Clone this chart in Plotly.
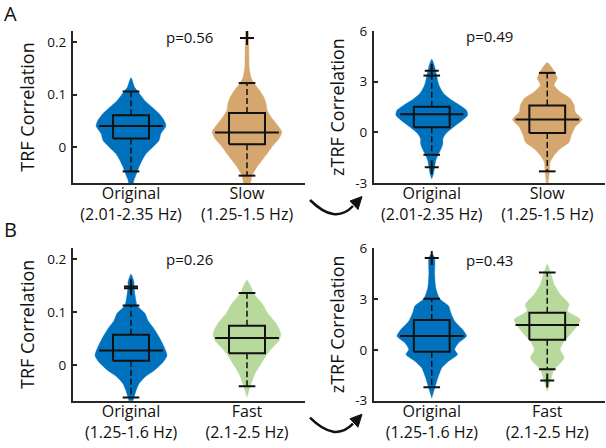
import plotly.graph_objects as go

# ---------------- data ----------------
cat_A = ["Original<br>(2.01-2.35 Hz)", "Slow<br>(1.25-1.5 Hz)"]
cat_B = ["Original<br>(1.25-1.6 Hz)", "Fast<br>(2.1-2.5 Hz)"]
p_values = ["p=0.56", "p=0.49", "p=0.26", "p=0.43"]

# violin outlines: y levels and relative density (half-width relative to max)
A_trf_orig_y = [0.132, 0.114, 0.106, 0.089, 0.0765, 0.064, 0.051, 0.0405, 0.026, 0.0133, 0.0006, -0.012, -0.0247, -0.0375, -0.047, -0.0626, -0.07]
A_trf_orig_d = [0, 0.10, 0.19, 0.38, 0.58, 0.78, 0.92, 0.97, 0.83, 0.78, 0.61, 0.42, 0.31, 0.22, 0.17, 0.08, 0.05]
A_trf_slow_y = [0.23, 0.20, 0.152, 0.133, 0.122, 0.108, 0.095, 0.083, 0.070, 0.0575, 0.045, 0.029, 0.0165, 0.0006, -0.012, -0.0247, -0.037, -0.054, -0.07]
A_trf_slow_d = [0.04, 0.05, 0.06, 0.11, 0.19, 0.35, 0.47, 0.53, 0.56, 0.67, 0.81, 0.97, 0.89, 0.69, 0.56, 0.42, 0.28, 0.14, 0.08]
A_z_orig_y = [4.33, 3.89, 3.6, 3.34, 3.0, 2.7, 2.3, 1.9, 1.61, 1.31, 1.01, 0.72, 0.32, -0.08, -0.38, -0.67, -0.97, -1.27, -1.67, -2.07, -2.5, -2.75]
A_z_orig_d = [0, 0.08, 0.11, 0.14, 0.17, 0.22, 0.33, 0.56, 0.78, 0.97, 1.0, 0.86, 0.61, 0.39, 0.31, 0.31, 0.26, 0.19, 0.11, 0.08, 0.04, 0]
A_z_slow_y = [4.13, 3.79, 3.5, 3.2, 2.8, 2.4, 2.0, 1.61, 1.21, 0.76, 0.32, -0.18, -0.58, -0.97, -1.37, -1.77, -2.3, -2.86, -3.05]
A_z_slow_d = [0, 0.14, 0.22, 0.28, 0.19, 0.36, 0.64, 0.75, 0.78, 0.97, 0.78, 0.67, 0.61, 0.36, 0.19, 0.08, 0.06, 0.03, 0.02]
B_trf_orig_y = [0.1715, 0.157, 0.1475, 0.132, 0.112, 0.097, 0.084, 0.071, 0.0525, 0.0335, 0.0177, 0.005, -0.011, -0.023, -0.036, -0.049, -0.062, -0.07]
B_trf_orig_d = [0, 0.08, 0.08, 0.11, 0.17, 0.39, 0.47, 0.61, 0.78, 0.92, 1.0, 0.89, 0.64, 0.39, 0.22, 0.14, 0.08, 0.04]
B_trf_fast_y = [0.16, 0.1475, 0.136, 0.116, 0.097, 0.078, 0.059, 0.046, 0.0335, 0.0177, 0.002, -0.017, -0.0405, -0.061]
B_trf_fast_d = [0, 0.11, 0.17, 0.42, 0.58, 0.81, 0.94, 0.89, 0.72, 0.53, 0.39, 0.22, 0.09, 0]
B_z_orig_y = [5.67, 5.41, 4.45, 3.66, 3.01, 2.58, 2.19, 1.69, 1.2, 0.81, 0.41, 0.02, -0.28, -0.67, -1.06, -1.65, -2.2, -2.83]
B_z_orig_d = [0, 0.08, 0.08, 0.11, 0.22, 0.47, 0.53, 0.64, 0.86, 0.97, 0.75, 0.64, 0.72, 0.47, 0.28, 0.17, 0.09, 0]
B_z_fast_y = [5.04, 4.55, 3.86, 3.27, 2.68, 2.28, 1.79, 1.4, 0.9, 0.51, 0.02, -0.47, -0.87, -1.14, -1.81, -2.44]
B_z_fast_d = [0, 0.09, 0.19, 0.36, 0.61, 0.56, 0.92, 0.83, 0.64, 0.47, 0.36, 0.47, 0.33, 0.19, 0.09, 0]

# box statistics: [lower whisker, Q1, median, Q3, upper whisker]
A_trf_orig_stats = [-0.046, 0.0165, 0.0405, 0.061, 0.106]
A_trf_slow_stats = [-0.054, 0.0057, 0.028, 0.065, 0.122]
A_z_orig_stats = [-1.33, 0.30, 1.07, 1.51, 3.36]
A_z_slow_stats = [-2.31, -0.04, 0.755, 1.59, 3.52]
B_trf_orig_stats = [-0.062, 0.0076, 0.027, 0.057, 0.112]
B_trf_fast_stats = [-0.0405, 0.022, 0.0506, 0.074, 0.136]
B_z_orig_stats = [-2.2, -0.12, 0.81, 1.75, 3.01]
B_z_fast_stats = [-1.14, 0.59, 1.46, 2.19, 4.55]

# outliers
A_trf_orig_out = []
A_trf_slow_out = [0.2076]
A_z_orig_out = [3.64, -2.07]
A_z_slow_out = []
B_trf_orig_out = [0.145, 0.148]
B_trf_fast_out = []
B_z_orig_out = [5.41]
B_z_fast_out = [-1.81]

# ---------------- style ----------------
BLUE = "#0072BD"
TAN = "#D6A66F"
GREEN = "#B7D99C"
INK = "#111111"
AXC = "#262626"
FONT = "Open Sans"
VW, BW, MW, CW = 0.31, 0.155, 0.275, 0.072

fig = go.Figure()


def add_group(xa, ya, c, ys, ds, stats, outs, color):
    xs = [c + d * VW for d in ds] + [c - d * VW for d in reversed(ds)]
    yy = list(ys) + list(reversed(ys))
    fig.add_trace(go.Scatter(x=xs, y=yy, fill="toself", fillcolor=color, mode="lines",
                             line=dict(width=0.5, color=color, shape="spline", smoothing=0.6),
                             xaxis=xa, yaxis=ya, hoverinfo="skip", showlegend=False))
    lo, q1, med, q3, hi = stats
    ln = dict(color=INK, width=2)
    for a, b in [(q3, hi), (q1, lo)]:
        fig.add_trace(go.Scatter(x=[c, c], y=[a, b], mode="lines",
                                 line=dict(color=INK, width=1.5, dash="6px,3px"),
                                 xaxis=xa, yaxis=ya, hoverinfo="skip", showlegend=False))
    for v in [hi, lo]:
        fig.add_trace(go.Scatter(x=[c - CW, c + CW], y=[v, v], mode="lines", line=ln,
                                 xaxis=xa, yaxis=ya, hoverinfo="skip", showlegend=False))
    fig.add_trace(go.Scatter(x=[c - BW, c + BW, c + BW, c - BW, c - BW], y=[q1, q1, q3, q3, q1],
                             mode="lines", line=ln, xaxis=xa, yaxis=ya, hoverinfo="skip", showlegend=False))
    fig.add_trace(go.Scatter(x=[c - MW, c + MW], y=[med, med], mode="lines", line=ln,
                             xaxis=xa, yaxis=ya, hoverinfo="skip", showlegend=False))
    if outs:
        fig.add_trace(go.Scatter(x=[c] * len(outs), y=outs, mode="markers",
                                 marker=dict(symbol="cross-thin", size=10, line=dict(color=INK, width=2)),
                                 xaxis=xa, yaxis=ya, hoverinfo="skip", showlegend=False, cliponaxis=False))


add_group("x", "y", 1, A_trf_orig_y, A_trf_orig_d, A_trf_orig_stats, A_trf_orig_out, BLUE)
add_group("x", "y", 2, A_trf_slow_y, A_trf_slow_d, A_trf_slow_stats, A_trf_slow_out, TAN)
add_group("x2", "y2", 1, A_z_orig_y, A_z_orig_d, A_z_orig_stats, A_z_orig_out, BLUE)
add_group("x2", "y2", 2, A_z_slow_y, A_z_slow_d, A_z_slow_stats, A_z_slow_out, TAN)
add_group("x3", "y3", 1, B_trf_orig_y, B_trf_orig_d, B_trf_orig_stats, B_trf_orig_out, BLUE)
add_group("x3", "y3", 2, B_trf_fast_y, B_trf_fast_d, B_trf_fast_stats, B_trf_fast_out, GREEN)
add_group("x4", "y4", 1, B_z_orig_y, B_z_orig_d, B_z_orig_stats, B_z_orig_out, BLUE)
add_group("x4", "y4", 2, B_z_fast_y, B_z_fast_d, B_z_fast_stats, B_z_fast_out, GREEN)

W, H = 606, 448
def px(x):
    return x / W
def py(y):
    return 1 - y / H

XL = [px(73), px(305)]
XR = [px(374), px(605)]
YA = [py(183), py(31)]
YB = [py(400.7), py(248)]

def xax(dom, anchor, cats):
    return dict(domain=dom, anchor=anchor, range=[0.5, 2.5], tickvals=[1, 2], ticktext=cats,
                showline=True, linecolor=AXC, linewidth=2, ticks="", showgrid=False, zeroline=False,
                automargin=False, ticklabelstandoff=-5,
                tickfont=dict(family=FONT, size=16, color=INK), fixedrange=True)

def yax(dom, anchor, rng, vals, texts, title, standoff):
    return dict(domain=dom, anchor=anchor, range=rng, tickvals=vals, ticktext=texts,
                showline=True, linecolor=AXC, linewidth=2, ticks="inside", ticklen=4, tickwidth=1.5,
                tickcolor=AXC, showgrid=False, zeroline=False, automargin=False,
                tickfont=dict(family=FONT, size=13.5, color=INK), ticklabelstandoff=2,
                title=dict(text=title, font=dict(family=FONT, size=18, color=INK), standoff=standoff),
                fixedrange=True)

trf_rng = [-0.068, 0.221]
z_rng = [-3, 6]
fig.update_layout(
    template="none",
    width=W, height=H, margin=dict(l=0, r=0, t=0, b=0, pad=0), autosize=False,
    paper_bgcolor="white", plot_bgcolor="white", showlegend=False,
    font=dict(family=FONT, color=INK),
    xaxis=xax(XL, "y", cat_A),
    yaxis=yax(YA, "x", trf_rng, [0, 0.1, 0.2], ["0", "0.1", "0.2"], "TRF Correlation", 8),
    xaxis2=xax(XR, "y2", cat_A),
    yaxis2=yax(YA, "x2", z_rng, [-3, 0, 3, 6], ["-3", "0", "3", "6"], "zTRF Correlation", 6),
    xaxis3=xax(XL, "y3", cat_B),
    yaxis3=yax(YB, "x3", trf_rng, [0, 0.1, 0.2], ["0", "0.1", "0.2"], "TRF Correlation", 8),
    xaxis4=xax(XR, "y4", cat_B),
    yaxis4=yax(YB, "x4", z_rng, [-3, 0, 3, 6], ["-3", "0", "3", "6"], "zTRF Correlation", 6),
)

for (xr, yr, yv, txt) in [("x", "y", 0.209, p_values[0]), ("x2", "y2", 5.72, p_values[1]),
                          ("x3", "y3", 0.201, p_values[2]), ("x4", "y4", 5.3, p_values[3])]:
    fig.add_annotation(x=1.5, y=yv, xref=xr, yref=yr, text=txt, showarrow=False,
                       font=dict(family=FONT, size=15, color=INK), xanchor="center", yanchor="middle")

fig.add_annotation(x=px(2), y=py(-2), xref="paper", yref="paper", text="A", showarrow=False,
                   xanchor="left", yanchor="top", font=dict(family=FONT, size=20, color=INK))
fig.add_annotation(x=px(2), y=py(214), xref="paper", yref="paper", text="B", showarrow=False,
                   xanchor="left", yanchor="top", font=dict(family=FONT, size=20, color=INK))

for dy in [0, 217.7]:
    p0 = (310, 200 + dy); c0 = (335, 225 + dy); p1 = (353, 206 + dy)
    fig.add_shape(type="path", xref="paper", yref="paper",
                  path=f"M {px(p0[0])},{py(p0[1])} Q {px(c0[0])},{py(c0[1])} {px(p1[0])},{py(p1[1])}",
                  line=dict(color=INK, width=2.5))
    tip = (362, 196.5 + dy); b1 = (350, 201 + dy); b2 = (358, 209.5 + dy)
    fig.add_shape(type="path", xref="paper", yref="paper",
                  path=f"M {px(tip[0])},{py(tip[1])} L {px(b1[0])},{py(b1[1])} L {px(b2[0])},{py(b2[1])} Z",
                  fillcolor=INK, line=dict(color=INK, width=1))

fig.write_html("out.html", config={"displayModeBar": False},
               post_script="document.body.style.margin='0';")
